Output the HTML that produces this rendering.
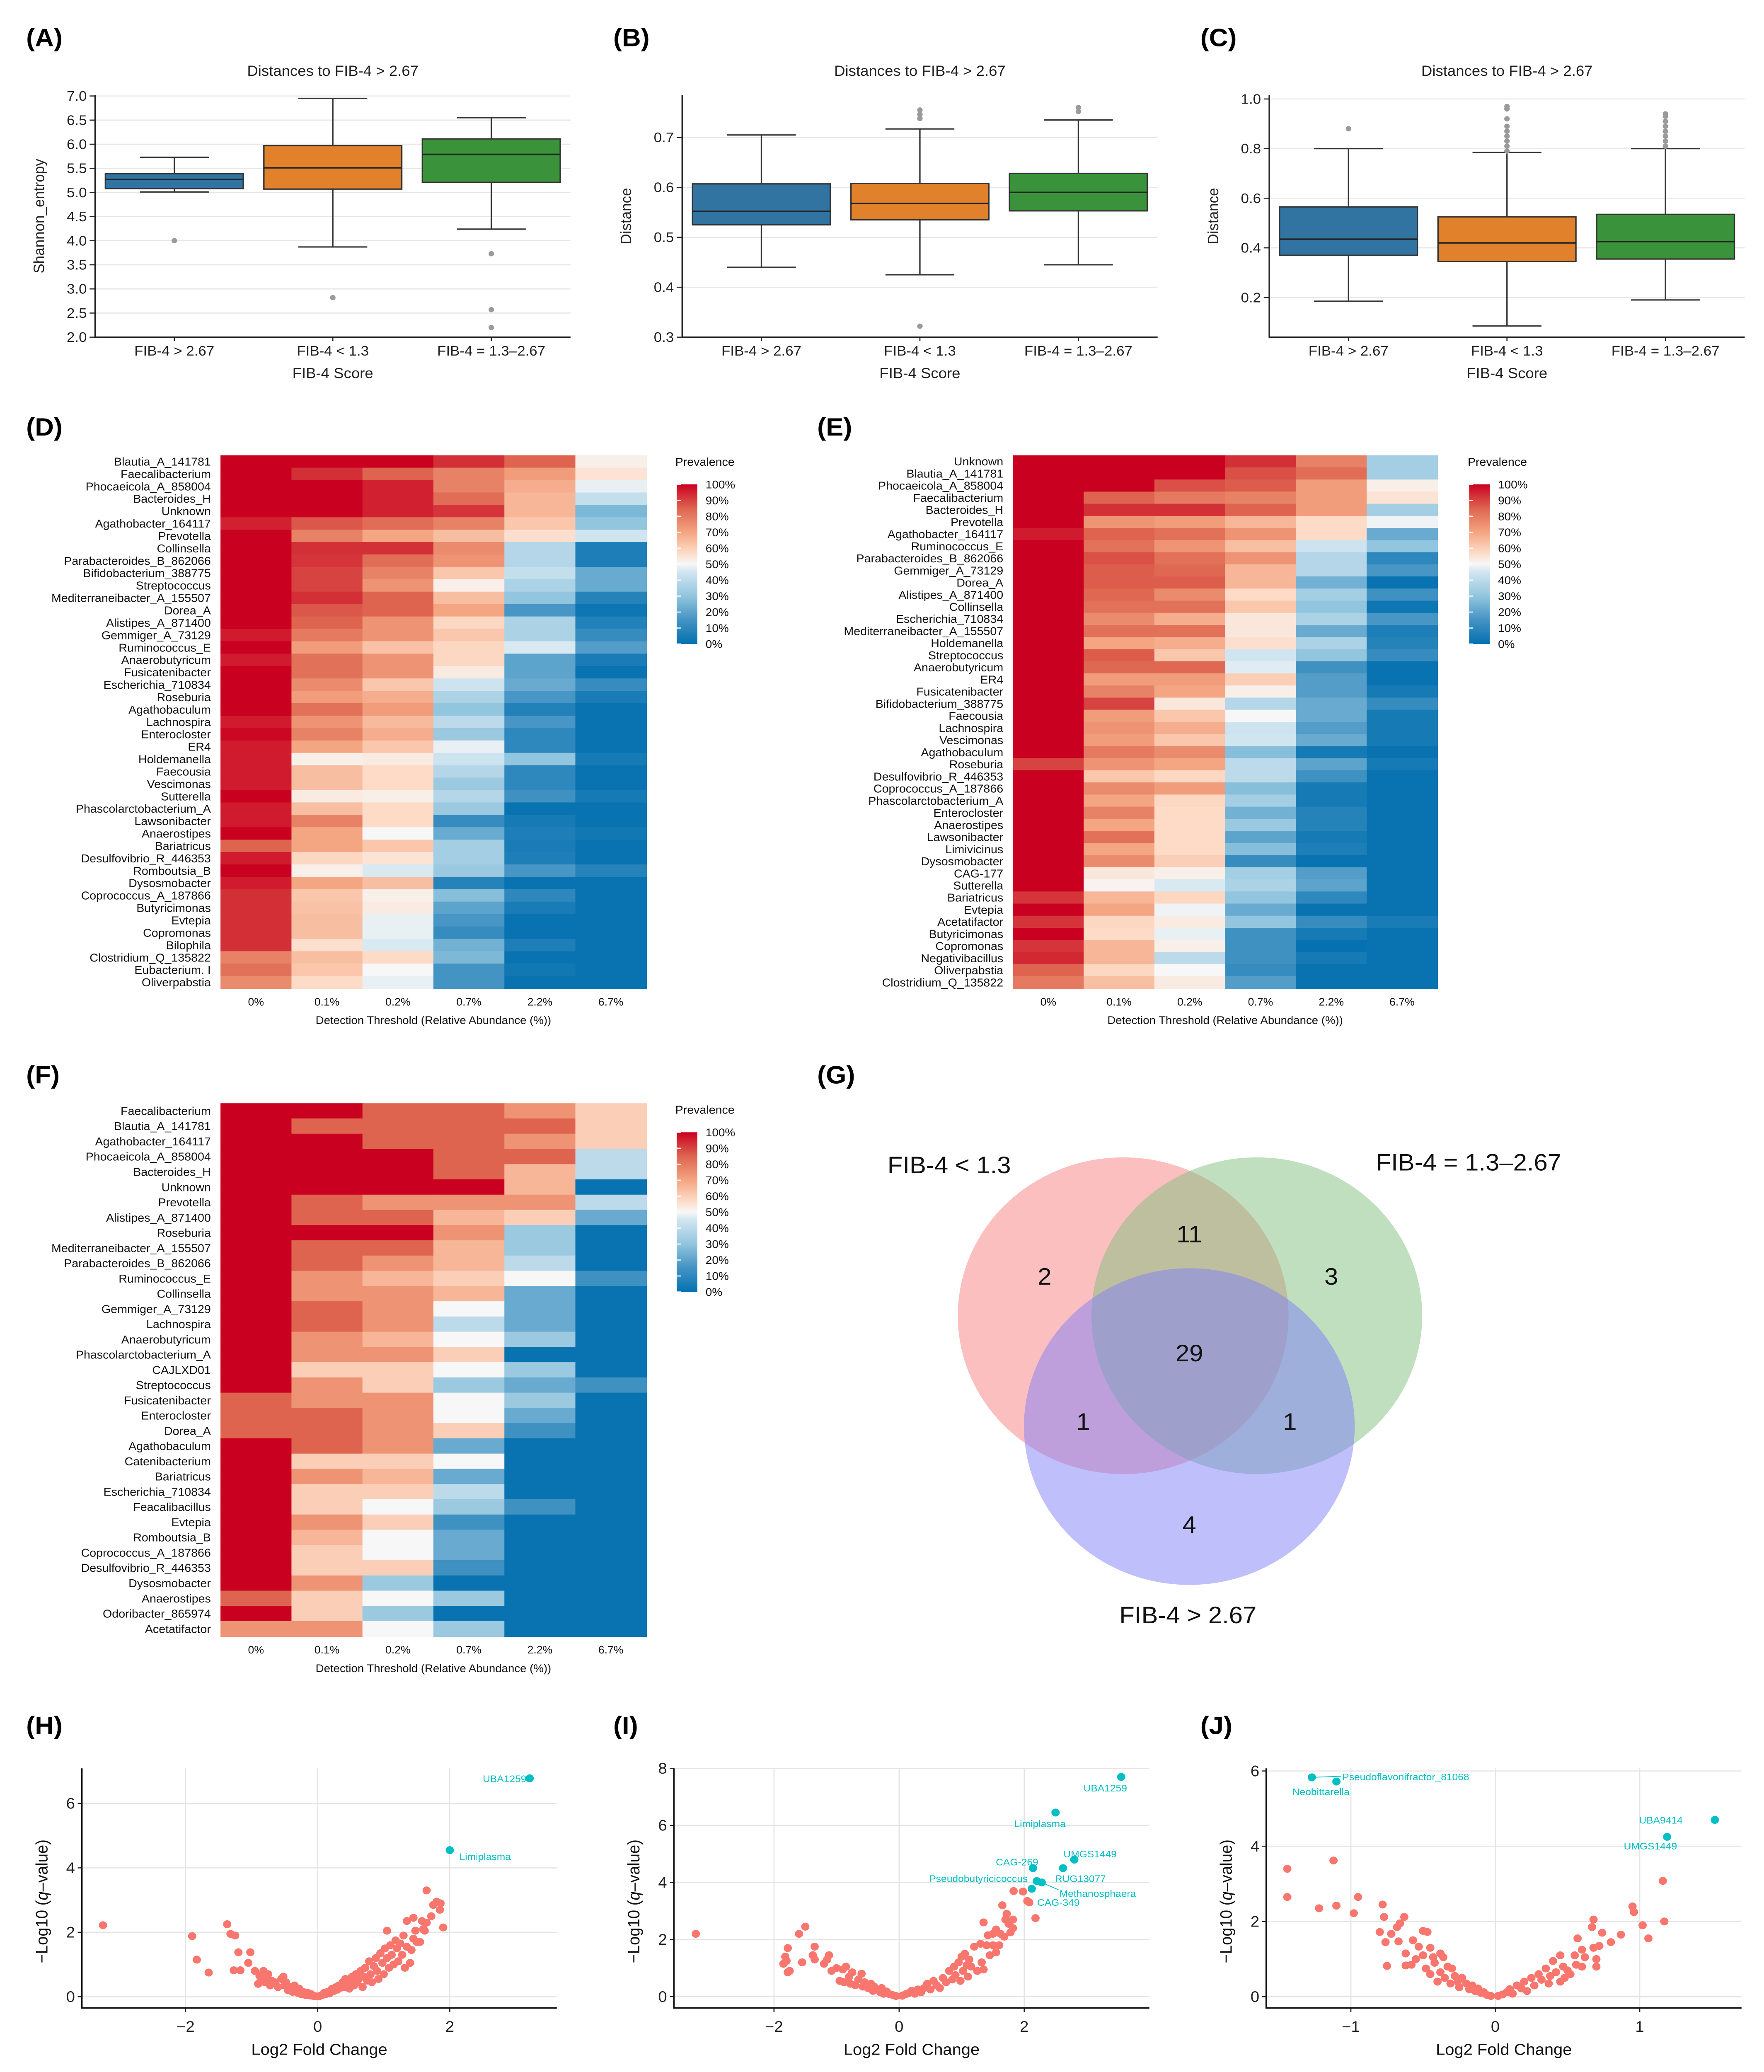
<!DOCTYPE html>
<html><head><meta charset="utf-8">
<style>
html,body{margin:0;padding:0;background:#fff;overflow:hidden;width:100vw;height:100vh;}
svg{display:block;position:absolute;left:0;top:0;width:100vw;height:100vh;font-family:"Liberation Sans",sans-serif;}
</style></head>
<body>
<svg id="fig" viewBox="0 0 1280 1570.1" preserveAspectRatio="none" xmlns="http://www.w3.org/2000/svg"></svg>
<script>
// ---------- DATA ----------
const boxCategories = ["FIB-4 > 2.67", "FIB-4 < 1.3", "FIB-4 = 1.3\u20132.67"];
const boxColors = ["#3274a1", "#e1812c", "#3a923a"];
// A: Shannon entropy
const aQ1 = [5.08, 5.07, 5.21];
const aMed = [5.27, 5.51, 5.79];
const aQ3 = [5.39, 5.97, 6.11];
const aLo = [5.01, 3.87, 4.24];
const aHi = [5.73, 6.95, 6.55];
const aOut = [[4.0], [2.82], [3.73, 2.57, 2.2]];
const aTicks = [2.0, 2.5, 3.0, 3.5, 4.0, 4.5, 5.0, 5.5, 6.0, 6.5, 7.0];
// B
const bQ1 = [0.525, 0.535, 0.553];
const bMed = [0.552, 0.568, 0.590];
const bQ3 = [0.607, 0.608, 0.628];
const bLo = [0.440, 0.425, 0.445];
const bHi = [0.705, 0.717, 0.735];
const bOut = [[], [0.738, 0.746, 0.755, 0.322], [0.752, 0.760]];
const bTicks = [0.3, 0.4, 0.5, 0.6, 0.7];
// C
const cQ1 = [0.370, 0.345, 0.355];
const cMed = [0.435, 0.420, 0.425];
const cQ3 = [0.565, 0.525, 0.535];
const cLo = [0.185, 0.085, 0.190];
const cHi = [0.800, 0.785, 0.800];
const cOut = [[0.88], [0.79, 0.81, 0.83, 0.85, 0.87, 0.89, 0.92, 0.96, 0.97], [0.81, 0.83, 0.85, 0.87, 0.89, 0.91, 0.93, 0.94]];
const cTicks = [0.2, 0.4, 0.6, 0.8, 1.0];

// Heatmaps
const hmCols = ["0%", "0.1%", "0.2%", "0.7%", "2.2%", "6.7%"];
const dRows = ["Blautia_A_141781","Faecalibacterium","Phocaeicola_A_858004","Bacteroides_H","Unknown","Agathobacter_164117","Prevotella","Collinsella","Parabacteroides_B_862066","Bifidobacterium_388775","Streptococcus","Mediterraneibacter_A_155507","Dorea_A","Alistipes_A_871400","Gemmiger_A_73129","Ruminococcus_E","Anaerobutyricum","Fusicatenibacter","Escherichia_710834","Roseburia","Agathobaculum","Lachnospira","Enterocloster","ER4","Holdemanella","Faecousia","Vescimonas","Sutterella","Phascolarctobacterium_A","Lawsonibacter","Anaerostipes","Bariatricus","Desulfovibrio_R_446353","Romboutsia_B","Dysosmobacter","Coprococcus_A_187866","Butyricimonas","Evtepia","Copromonas","Bilophila","Clostridium_Q_135822","Eubacterium. I","Oliverpabstia"];
const dVals = [
[100,100,100,93,85,52],[100,93,85,78,72,55],[100,100,95,78,68,48],[100,100,95,83,66,42],[100,100,95,92,66,26],
[95,87,83,78,62,30],[100,78,70,64,56,45],[100,93,93,76,38,6],[100,92,83,74,38,6],[100,90,78,62,42,22],
[100,90,74,52,36,22],[100,93,85,64,30,8],[100,87,85,70,16,2],[100,85,74,58,36,7],[96,80,74,62,36,12],
[100,72,63,58,46,18],[96,82,74,58,20,5],[100,82,74,53,20,1],[100,76,62,44,22,12],[100,72,68,36,16,5],
[100,82,72,30,7,1],[96,74,65,40,16,1],[99,78,68,32,10,1],[96,70,62,48,10,1],[96,52,53,44,30,4],
[96,64,57,38,10,1],[96,64,57,32,10,1],[100,53,52,38,14,4],[96,64,57,32,1,1],[96,78,57,12,4,1],
[100,70,50,22,6,3],[85,70,62,34,5,1],[96,58,55,34,6,1],[100,52,46,32,16,8],[96,70,64,8,1,1],
[93,62,52,28,10,1],[93,63,53,20,5,1],[93,64,48,16,1,1],[93,64,48,12,1,1],[93,56,46,24,6,1],
[78,64,57,26,1,1],[82,62,50,15,3,1],[76,57,48,15,1,1]];
const eRows = ["Unknown","Blautia_A_141781","Phocaeicola_A_858004","Faecalibacterium","Bacteroides_H","Prevotella","Agathobacter_164117","Ruminococcus_E","Parabacteroides_B_862066","Gemmiger_A_73129","Dorea_A","Alistipes_A_871400","Collinsella","Escherichia_710834","Mediterraneibacter_A_155507","Holdemanella","Streptococcus","Anaerobutyricum","ER4","Fusicatenibacter","Bifidobacterium_388775","Faecousia","Lachnospira","Vescimonas","Agathobaculum","Roseburia","Desulfovibrio_R_446353","Coprococcus_A_187866","Phascolarctobacterium_A","Enterocloster","Anaerostipes","Lawsonibacter","Limivicinus","Dysosmobacter","CAG-177","Sutterella","Bariatricus","Evtepia","Acetatifactor","Butyricimonas","Copromonas","Negativibacillus","Oliverpabstia","Clostridium_Q_135822"];
const eVals = [
[100,100,100,93,78,34],[100,100,100,88,83,34],[100,100,88,86,72,52],[100,85,80,78,72,55],[100,93,93,85,72,34],
[100,74,72,66,57,49],[96,85,82,74,57,22],[100,82,74,64,44,30],[100,88,82,74,38,10],[100,86,84,66,38,16],
[100,86,86,66,24,1],[100,84,76,57,34,14],[100,82,82,62,30,2],[100,76,68,54,36,16],[100,82,82,54,22,6],
[100,70,68,56,36,8],[100,86,62,45,30,12],[100,84,84,47,14,1],[100,72,72,60,18,1],[100,78,70,52,18,4],
[100,90,54,38,22,12],[100,72,62,50,22,4],[100,74,68,44,18,4],[100,72,62,45,22,4],[100,80,76,28,4,1],
[90,74,70,40,20,4],[100,62,58,40,14,1],[100,76,72,28,4,1],[100,70,58,34,4,1],[100,78,57,24,8,1],
[100,70,57,32,8,1],[100,82,57,20,4,1],[100,70,57,28,6,1],[100,76,60,12,1,1],[100,54,52,34,18,1],
[100,51,46,36,20,1],[92,66,58,30,10,1],[100,70,49,22,1,1],[92,58,53,30,12,5],[100,57,48,14,4,1],
[92,66,52,14,0,1],[94,66,40,14,4,1],[85,58,50,12,1,1],[80,64,53,18,1,1]];
const fRows = ["Faecalibacterium","Blautia_A_141781","Agathobacter_164117","Phocaeicola_A_858004","Bacteroides_H","Unknown","Prevotella","Alistipes_A_871400","Roseburia","Mediterraneibacter_A_155507","Parabacteroides_B_862066","Ruminococcus_E","Collinsella","Gemmiger_A_73129","Lachnospira","Anaerobutyricum","Phascolarctobacterium_A","CAJLXD01","Streptococcus","Fusicatenibacter","Enterocloster","Dorea_A","Agathobaculum","Catenibacterium","Bariatricus","Escherichia_710834","Feacalibacillus","Evtepia","Romboutsia_B","Coprococcus_A_187866","Desulfovibrio_R_446353","Dysosmobacter","Anaerostipes","Odoribacter_865974","Acetatifactor"];
const fVals = [
[100,100,85,85,74,60],[100,85,85,85,85,60],[100,100,85,85,74,60],[100,100,100,85,85,40],[100,100,100,85,66,40],
[100,100,100,100,66,1],[100,85,74,74,74,40],[100,85,85,66,60,22],[100,100,100,74,32,1],[100,85,85,66,32,1],
[100,85,74,66,40,1],[100,74,66,60,50,14],[100,74,74,66,22,1],[100,85,74,50,22,1],[100,85,74,40,22,1],
[100,74,66,50,32,1],[100,74,74,60,1,1],[100,60,60,50,32,1],[100,74,60,32,22,14],[85,74,74,50,32,1],
[85,85,74,50,22,1],[85,85,74,60,14,1],[100,85,74,22,1,1],[100,60,60,50,1,1],[100,74,66,22,1,1],
[100,60,60,40,1,1],[100,60,50,32,14,1],[100,74,60,14,1,1],[100,66,50,22,1,1],[100,60,50,22,1,1],
[100,60,60,14,1,1],[100,74,32,1,1,1],[85,60,50,32,1,1],[100,60,32,1,1,1],[74,74,50,32,1,1]];
const legendTicks = ["100%","90%","80%","70%","60%","50%","40%","30%","20%","10%","0%"];

// Venn
const vennSets = ["FIB-4 < 1.3", "FIB-4 = 1.3\u20132.67", "FIB-4 > 2.67"];
const vennCounts = [2, 3, 4, 11, 1, 1, 29];

// Volcano H
const hX = [-3.25,-1.9,-1.83,-1.65,-1.37,-1.32,-1.25,-1.2,-1.02,-1.05,-1.27,-1.17,-0.95,-0.9,-0.88,-0.85,-0.82,-0.8,-0.78,-0.75,-0.72,-0.7,-0.65,-0.6,-0.55,-0.52,-0.5,-0.48,-0.45,-0.42,-0.4,-0.38,-0.35,-0.32,-0.3,-0.28,-0.25,-0.22,-0.2,-0.18,-0.15,-0.12,-0.1,-0.08,-0.05,-0.02,0.02,0.05,0.08,0.1,0.12,0.15,0.18,0.2,0.22,0.25,0.28,0.3,0.32,0.35,0.38,0.4,0.42,0.45,0.48,0.5,0.52,0.55,0.58,0.6,0.62,0.65,0.68,0.7,0.72,0.75,0.78,0.8,0.82,0.85,0.88,0.9,0.92,0.95,0.98,1.0,1.02,1.05,1.05,1.08,1.1,1.12,1.15,1.18,1.2,1.22,1.25,1.28,1.3,1.32,1.35,1.35,1.4,1.42,1.45,1.45,1.48,1.5,1.55,1.58,1.6,1.62,1.65,1.65,1.72,1.75,1.8,1.86,1.85,1.9];
const hY = [2.22,1.88,1.15,0.75,2.25,1.95,1.9,1.38,1.38,1.05,0.82,0.82,0.8,0.4,0.65,0.55,0.8,0.45,0.62,0.7,0.35,0.5,0.45,0.3,0.55,0.62,0.35,0.45,0.2,0.3,0.25,0.15,0.35,0.2,0.12,0.25,0.08,0.15,0.1,0.05,0.12,0.04,0.08,0.03,0.02,0.01,0.01,0.04,0.06,0.12,0.08,0.15,0.1,0.2,0.25,0.18,0.3,0.22,0.35,0.28,0.45,0.3,0.55,0.4,0.25,0.5,0.62,0.35,0.7,0.45,0.55,0.8,0.3,0.62,0.9,0.5,1.1,0.7,0.45,0.95,1.2,0.8,0.55,1.35,1.05,0.7,1.5,1.2,2.05,0.9,1.6,1.3,1.0,1.75,1.5,1.1,1.65,1.3,1.9,0.9,1.55,2.35,1.05,1.45,2.45,1.8,2.05,1.7,1.7,2.35,2.1,2.05,3.3,2.3,2.5,2.85,2.95,2.9,2.7,2.15];
const hSigNames = ["UBA1259", "Limiplasma"];
const hSigX = [3.21, 2.0];
const hSigY = [6.78, 4.55];

// Volcano I
const iX = [-3.25,-1.6,-1.5,-1.78,-1.82,-1.85,-1.78,-1.75,-1.8,-1.55,-1.35,-1.38,-1.35,-1.2,-1.12,-1.15,-1.08,-1.0,-0.95,-0.9,-0.88,-0.85,-0.8,-0.78,-0.75,-0.7,-0.65,-0.6,-0.58,-0.55,-0.5,-0.45,-0.42,-0.4,-0.35,-0.3,-0.28,-0.25,-0.2,-0.15,-0.1,-0.05,0.05,0.1,0.15,0.2,0.25,0.3,0.35,0.4,0.45,0.5,0.55,0.6,0.65,0.7,0.75,0.8,0.85,0.88,0.9,0.95,0.98,1.0,1.02,1.05,1.08,1.1,1.12,1.15,1.2,1.25,1.3,1.32,1.35,1.35,1.4,1.42,1.45,1.5,1.5,1.55,1.55,1.6,1.62,1.65,1.68,1.7,1.72,1.75,1.78,1.82,1.82,1.83,1.98,2.05,2.08,2.18];
const iY = [2.2,2.2,2.45,1.7,1.4,1.15,0.85,0.9,1.25,1.2,1.75,1.45,1.3,1.15,1.45,1.3,0.9,1.0,0.55,0.95,0.5,1.05,0.7,0.45,0.85,0.4,0.6,0.8,0.35,0.5,0.3,0.45,0.2,0.35,0.25,0.15,0.3,0.1,0.18,0.08,0.05,0.02,0.03,0.08,0.12,0.2,0.1,0.25,0.15,0.3,0.45,0.25,0.55,0.4,0.3,0.65,0.5,0.9,0.6,1.05,0.75,1.2,0.55,1.4,0.9,1.5,1.1,0.7,1.3,1.05,1.75,0.9,1.85,1.2,0.95,2.6,1.8,2.15,1.45,2.2,1.8,2.35,1.55,1.8,2.2,3.2,2.1,2.7,2.9,2.55,2.25,2.7,2.4,3.7,3.68,3.35,3.3,2.75];
const iSigNames = ["UBA1259","Limiplasma","UMGS1449","RUG13077","CAG-269","Pseudobutyricicoccus","Methanosphaera","CAG-349"];
const iSigX = [3.55, 2.5, 2.8, 2.62, 2.14, 2.2, 2.28, 2.12];
const iSigY = [7.7, 6.45, 4.8, 4.5, 4.5, 4.05, 4.0, 3.78];

// Volcano J
const jX = [-1.44,-1.44,-1.22,-1.12,-1.1,-0.98,-0.95,-0.78,-0.77,-0.8,-0.76,-0.75,-0.72,-0.68,-0.66,-0.63,-0.67,-0.62,-0.62,-0.58,-0.57,-0.55,-0.53,-0.5,-0.5,-0.47,-0.48,-0.45,-0.45,-0.43,-0.42,-0.4,-0.38,-0.38,-0.36,-0.35,-0.33,-0.31,-0.3,-0.28,-0.26,-0.25,-0.23,-0.2,-0.18,-0.16,-0.14,-0.12,-0.1,-0.08,-0.06,-0.03,0.02,0.05,0.08,0.1,0.12,0.15,0.18,0.2,0.22,0.25,0.27,0.3,0.32,0.35,0.37,0.38,0.4,0.42,0.45,0.45,0.47,0.48,0.5,0.52,0.55,0.56,0.57,0.6,0.6,0.62,0.67,0.68,0.68,0.7,0.7,0.72,0.74,0.8,0.87,0.95,0.96,1.02,1.06,1.16,1.17];
const jY = [3.4,2.65,2.35,3.62,2.42,2.22,2.65,2.45,2.12,1.72,1.45,0.82,1.67,1.85,1.95,2.12,1.47,1.15,0.83,0.85,1.5,1.0,1.33,1.1,1.75,1.72,0.75,1.3,0.6,1.05,0.9,0.4,1.15,0.65,1.05,0.5,0.8,0.35,0.75,0.55,0.4,0.25,0.5,0.35,0.2,0.3,0.15,0.22,0.1,0.12,0.05,0.02,0.02,0.06,0.12,0.2,0.08,0.3,0.22,0.4,0.15,0.5,0.3,0.6,0.45,0.75,0.35,0.55,0.95,0.65,1.1,0.4,0.8,0.5,0.7,0.6,1.1,0.85,1.55,1.25,0.8,1.05,1.85,2.05,1.3,1.0,0.8,1.35,1.7,1.45,1.65,2.4,2.25,1.9,1.55,3.08,2.0];
const jSigNames = ["Pseudoflavonifractor_81068","Neobittarella","UBA9414","UMGS1449"];
const jSigX = [-1.27, -1.1, 1.52, 1.19];
const jSigY = [5.83, 5.72, 4.7, 4.25];

// ---------- HELPERS ----------
const NS = "http://www.w3.org/2000/svg";
const svg = document.getElementById("fig");
function mk(parent, tag, attrs, text) {
  const el = document.createElementNS(NS, tag);
  for (const k in attrs) el.setAttribute(k, attrs[k]);
  if (text !== undefined) el.textContent = text;
  parent.appendChild(el);
  return el;
}
function grp(name) {
  const g = mk(svg, "g", {});
  
  
  return g;
}
function panelLabel(x, y, t) {
  const el = mk(svg, "text", {x: x, y: y, "font-size": 19, "font-weight": "bold", fill: "#000"}, t);
  
  
}
function lin(d0, d1, r0, r1) { return v => r0 + (v - d0) * (r1 - r0) / (d1 - d0); }

// ---------- BOX PLOTS ----------
function boxPanel(cfg) {
  const g = grp(cfg.name);
  const y = lin(cfg.d0, cfg.d1, cfg.bottom, cfg.top);
  const band = (cfg.right - cfg.left) / 3;
  cfg.ticks.forEach(t => {
    const gl = mk(g, "line", {x1: cfg.left, x2: cfg.right, y1: y(t), y2: y(t), stroke: "#e6e6e6", "stroke-width": 0.8});
    
    
    const tk = mk(g, "line", {x1: cfg.left - 4, x2: cfg.left, y1: y(t), y2: y(t), stroke: "#222", "stroke-width": 0.8});
    
    
    const tl = mk(g, "text", {x: cfg.left - 6, y: y(t) + 3.6, "font-size": 10.5, "text-anchor": "end", fill: "#222"}, t.toFixed(1));
    
    
  });
  for (let i = 0; i < 3; i++) {
    const cx = cfg.left + (i + 0.5) * band;
    const bw = band * 0.87;
    const wl = mk(g, "line", {x1: cx, x2: cx, y1: y(cfg.hi[i]), y2: y(cfg.q3[i]), stroke: "#333", "stroke-width": 1});
    
    
    const wl2 = mk(g, "line", {x1: cx, x2: cx, y1: y(cfg.q1[i]), y2: y(cfg.lo[i]), stroke: "#333", "stroke-width": 1});
    
    
    const c1 = mk(g, "line", {x1: cx - bw / 4, x2: cx + bw / 4, y1: y(cfg.hi[i]), y2: y(cfg.hi[i]), stroke: "#333", "stroke-width": 1});
    
    
    const c2 = mk(g, "line", {x1: cx - bw / 4, x2: cx + bw / 4, y1: y(cfg.lo[i]), y2: y(cfg.lo[i]), stroke: "#333", "stroke-width": 1});
    
    
    const bx = mk(g, "rect", {x: cx - bw / 2, y: y(cfg.q3[i]), width: bw, height: y(cfg.q1[i]) - y(cfg.q3[i]), fill: boxColors[i], stroke: "#333", "stroke-width": 1});
    
    
    const md = mk(g, "line", {x1: cx - bw / 2, x2: cx + bw / 2, y1: y(cfg.med[i]), y2: y(cfg.med[i]), stroke: "#222", "stroke-width": 1.1});
    
    
    cfg.out[i].forEach(o => {
      const oc = mk(g, "circle", {cx: cx, cy: y(o), r: 2, fill: "#9a9a9a"});
      
      
    });
    const xl = mk(g, "text", {x: cx, y: cfg.bottom + 14, "font-size": 10.5, "text-anchor": "middle", fill: "#222"}, boxCategories[i]);
    
    
    const xt = mk(g, "line", {x1: cx, x2: cx, y1: cfg.bottom, y2: cfg.bottom + 3, stroke: "#222", "stroke-width": 0.8});
    
    
  }
  const ax = mk(g, "path", {d: `M${cfg.left},${cfg.top} V${cfg.bottom} H${cfg.right}`, fill: "none", stroke: "#222", "stroke-width": 1});
  
  
  const mid = (cfg.left + cfg.right) / 2;
  const tt = mk(g, "text", {x: mid, y: 57.5, "font-size": 11, "text-anchor": "middle", fill: "#222"}, "Distances to FIB-4 > 2.67");
  
  
  const xt = mk(g, "text", {x: mid, y: 286.5, "font-size": 11, "text-anchor": "middle", fill: "#222"}, "FIB-4 Score");
  
  
  const yt = mk(g, "text", {x: 0, y: 0, "font-size": 11, "text-anchor": "middle", fill: "#222", transform: `translate(${cfg.left - 37},${(cfg.top + cfg.bottom) / 2}) rotate(-90)`}, cfg.ylabel);
  
  
}
panelLabel(19, 35, "(A)");
panelLabel(445, 35, "(B)");
panelLabel(871, 35, "(C)");
boxPanel({name: "boxplot-shannon", left: 69, right: 414, top: 72, bottom: 255.5, d0: 2.0, d1: 7.02, ticks: aTicks, q1: aQ1, med: aMed, q3: aQ3, lo: aLo, hi: aHi, out: aOut, ylabel: "Shannon_entropy"});
boxPanel({name: "boxplot-distance-b", left: 495, right: 840, top: 72, bottom: 255.5, d0: 0.3, d1: 0.785, ticks: bTicks, q1: bQ1, med: bMed, q3: bQ3, lo: bLo, hi: bHi, out: bOut, ylabel: "Distance"});
boxPanel({name: "boxplot-distance-c", left: 921, right: 1266, top: 72, bottom: 255.5, d0: 0.04, d1: 1.016, ticks: cTicks, q1: cQ1, med: cMed, q3: cQ3, lo: cLo, hi: cHi, out: cOut, ylabel: "Distance"});

// ---------- HEATMAPS ----------
const cStops = [[0,[5,113,176]],[0.15,[67,147,195]],[0.3,[146,197,222]],[0.45,[209,229,240]],[0.5,[247,247,247]],[0.57,[253,219,199]],[0.7,[244,165,130]],[0.85,[222,100,80]],[1,[202,0,32]]];
function cmap(v) {
  v = Math.max(0, Math.min(1, v));
  for (let i = 1; i < cStops.length; i++) {
    if (v <= cStops[i][0]) {
      const a = cStops[i - 1], b = cStops[i];
      const t = (v - a[0]) / (b[0] - a[0]);
      const c = a[1].map((x, k) => Math.round(x + (b[1][k] - x) * t));
      return `rgb(${c[0]},${c[1]},${c[2]})`;
    }
  }
  return "rgb(202,0,32)";
}
const defs = mk(svg, "defs", {});
const lg = mk(defs, "linearGradient", {id: "cbar", x1: 0, y1: 1, x2: 0, y2: 0});
cStops.forEach(s => mk(lg, "stop", {offset: s[0], "stop-color": cmap(s[0])}));

function heatmap(cfg) {
  const g = grp(cfg.name);
  const n = cfg.rows.length;
  const rh = (cfg.bottom - cfg.top) / n;
  const cw = (cfg.right - cfg.left) / hmCols.length;
  const fs = Math.min(8.6, rh * 0.95);
  cfg.vals.forEach((row, r) => {
    row.forEach((v, c) => {
      const cell = mk(g, "rect", {x: cfg.left + c * cw, y: cfg.top + r * rh, width: cw + 0.4, height: rh + 0.4, fill: cmap(v / 100)});
      
      
    });
    const lab = mk(g, "text", {x: cfg.left - 7, y: cfg.top + (r + 0.5) * rh + fs * 0.36, "font-size": fs, "text-anchor": "end", fill: "#111"}, cfg.rows[r]);
    
    
  });
  hmCols.forEach((c, i) => {
    const t = mk(g, "text", {x: cfg.left + (i + 0.5) * cw, y: cfg.bottom + 13, "font-size": 8, "text-anchor": "middle", fill: "#111"}, c);
    
    
  });
  const xt = mk(g, "text", {x: (cfg.left + cfg.right) / 2, y: cfg.bottom + 27, "font-size": 8.3, "text-anchor": "middle", fill: "#111"}, "Detection Threshold (Relative Abundance (%))");
  
  
  const lx = cfg.lx, ly = cfg.ly;
  const lt = mk(g, "text", {x: lx - 1, y: ly, "font-size": 8.6, fill: "#111"}, "Prevalence");
  
  
  const cb = mk(g, "rect", {x: lx, y: ly + 14, width: 15, height: 121, fill: "url(#cbar)"});
  
  
  legendTicks.forEach((t, i) => {
    const yy = ly + 14 + i * 12.1;
    const tk = mk(g, "line", {x1: lx, x2: lx + 3, y1: yy, y2: yy, stroke: "#fff", "stroke-width": 0.8});
    
    
    const tx = mk(g, "text", {x: lx + 21, y: yy + 3, "font-size": 8.4, fill: "#111"}, t);
    
    
  });
}
panelLabel(19, 330, "(D)");
panelLabel(593, 330, "(E)");
panelLabel(19, 821, "(F)");
heatmap({name: "heatmap-d", rows: dRows, vals: dVals, left: 160, right: 469, top: 345, bottom: 749, lx: 491, ly: 353});
heatmap({name: "heatmap-e", rows: eRows, vals: eVals, left: 735, right: 1043, top: 345, bottom: 749, lx: 1066, ly: 353});
heatmap({name: "heatmap-f", rows: fRows, vals: fVals, left: 160, right: 469, top: 836, bottom: 1240, lx: 491, ly: 844});

// ---------- VENN ----------
panelLabel(593, 821, "(G)");
(function () {
  const g = grp("venn-diagram");
  const circles = [[815, 997, "rgb(250,128,128)"], [912, 997, "rgb(128,192,128)"], [863, 1081, "rgb(128,128,250)"]];
  circles.forEach((c, i) => {
    const e = mk(g, "ellipse", {cx: c[0], cy: c[1], rx: 120, ry: 120, fill: c[2], "fill-opacity": 0.5});
    
    
  });
  const pos = [[758, 967], [966, 967], [863, 1155], [863, 935], [786, 1077], [936, 1077], [863, 1025]];
  vennCounts.forEach((v, i) => {
    const t = mk(g, "text", {x: pos[i][0], y: pos[i][1] + 6.5, "font-size": 18, "text-anchor": "middle", fill: "#111"}, v);
    
    
  });
  const l1 = mk(g, "text", {x: 644, y: 889, "font-size": 18, fill: "#111"}, vennSets[0]);
  
  
  const l2 = mk(g, "text", {x: 1133, y: 887, "font-size": 18, "text-anchor": "end", fill: "#111"}, vennSets[1]);
  
  
  const l3 = mk(g, "text", {x: 862, y: 1230, "font-size": 18, "text-anchor": "middle", fill: "#111"}, vennSets[2]);
  
  
})();

// ---------- VOLCANOES ----------
function volcano(cfg) {
  const g = grp(cfg.name);
  const x = lin(cfg.x0, cfg.x1, cfg.left, cfg.right);
  const y = lin(cfg.y0, cfg.y1, cfg.bottom, cfg.top);
  cfg.xticks.forEach(t => {
    const gl = mk(g, "line", {x1: x(t), x2: x(t), y1: cfg.top, y2: cfg.bottom, stroke: "#e4e4e4", "stroke-width": 0.8});
    
    
    const tk = mk(g, "line", {x1: x(t), x2: x(t), y1: cfg.bottom, y2: cfg.bottom + 3, stroke: "#222", "stroke-width": 0.8});
    
    
    const tl = mk(g, "text", {x: x(t), y: cfg.bottom + 18, "font-size": 11.5, "text-anchor": "middle", fill: "#222"}, t < 0 ? "\u2212" + Math.abs(t) : t);
    
    
  });
  cfg.yticks.forEach(t => {
    const gl = mk(g, "line", {x1: cfg.left, x2: cfg.right, y1: y(t), y2: y(t), stroke: "#e4e4e4", "stroke-width": 0.8});
    
    
    const tk = mk(g, "line", {x1: cfg.left - 3, x2: cfg.left, y1: y(t), y2: y(t), stroke: "#222", "stroke-width": 0.8});
    
    
    const tl = mk(g, "text", {x: cfg.left - 5, y: y(t) + 4, "font-size": 11.5, "text-anchor": "end", fill: "#222"}, t);
    
    
  });
  cfg.xs.forEach((v, i) => {
    const p = mk(g, "circle", {cx: x(v), cy: y(cfg.ys[i]), r: 3, fill: "#f8766d"});
    
    
  });
  cfg.sx.forEach((v, i) => {
    const p = mk(g, "circle", {cx: x(v), cy: y(cfg.sy[i]), r: 3, fill: "#00bfc4"});
    
    
    const lp = cfg.labelPos[i];
    const t = mk(g, "text", {x: lp[0], y: lp[1] + 2.5, "font-size": 7.4, "text-anchor": lp[2] || "middle", fill: "#00bfc4"}, cfg.snames[i]);
    
    
    if (lp[3]) {
      const ln = mk(g, "line", {x1: x(v), y1: y(cfg.sy[i]), x2: lp[3][0], y2: lp[3][1], stroke: "#00bfc4", "stroke-width": 0.6});
      
      
    }
  });
  const ax = mk(g, "path", {d: `M${cfg.left},${cfg.top} V${cfg.bottom} H${cfg.right}`, fill: "none", stroke: "#111", "stroke-width": 1.1});
  
  
  const xt = mk(g, "text", {x: (cfg.left + cfg.right) / 2, y: 1557, "font-size": 12, "text-anchor": "middle", fill: "#111"}, "Log2 Fold Change");
  
  
  const yt = mk(g, "text", {x: 0, y: 0, "font-size": 12, "text-anchor": "middle", fill: "#111", transform: `translate(${cfg.left - 25},${(cfg.top + cfg.bottom) / 2 + 10}) rotate(-90)`});
  
  
  mk(yt, "tspan", {}, "\u2212Log10 (");
  mk(yt, "tspan", {"font-style": "italic"}, "q");
  mk(yt, "tspan", {}, "\u2013value)");
}
panelLabel(19, 1314, "(H)");
panelLabel(445, 1314, "(I)");
panelLabel(871, 1314, "(J)");
volcano({name: "volcano-h", left: 59.4, right: 404, top: 1340, bottom: 1521.6, x0: -3.57, x1: 3.62, y0: -0.35, y1: 7.09,
  xticks: [-2, 0, 2], yticks: [0, 2, 4, 6], xs: hX, ys: hY, sx: hSigX, sy: hSigY, snames: hSigNames,
  labelPos: [[382, 1348, "end"], [352, 1407]]});
volcano({name: "volcano-i", left: 489, right: 834, top: 1340, bottom: 1521.6, x0: -3.6, x1: 4.0, y0: -0.4, y1: 8.0,
  xticks: [-2, 0, 2], yticks: [0, 2, 4, 6, 8], xs: iX, ys: iY, sx: iSigX, sy: iSigY, snames: iSigNames,
  labelPos: [[802, 1355], [754.6, 1382], [791, 1405], [784, 1423.6], [738, 1411], [710, 1423.6], [796.5, 1435, "middle", [768, 1432]], [768, 1441.7]]});
volcano({name: "volcano-j", left: 918.8, right: 1263.7, top: 1340, bottom: 1521.6, x0: -1.586, x1: 1.705, y0: -0.3, y1: 6.07,
  xticks: [-1, 0, 1], yticks: [0, 2, 4, 6], xs: jX, ys: jY, sx: jSigX, sy: jSigY, snames: jSigNames,
  labelPos: [[974, 1346.5, "start", [973, 1346]], [958.5, 1357.8], [1221, 1379.4, "end"], [1197.6, 1399]]});
</script>
</body></html>
